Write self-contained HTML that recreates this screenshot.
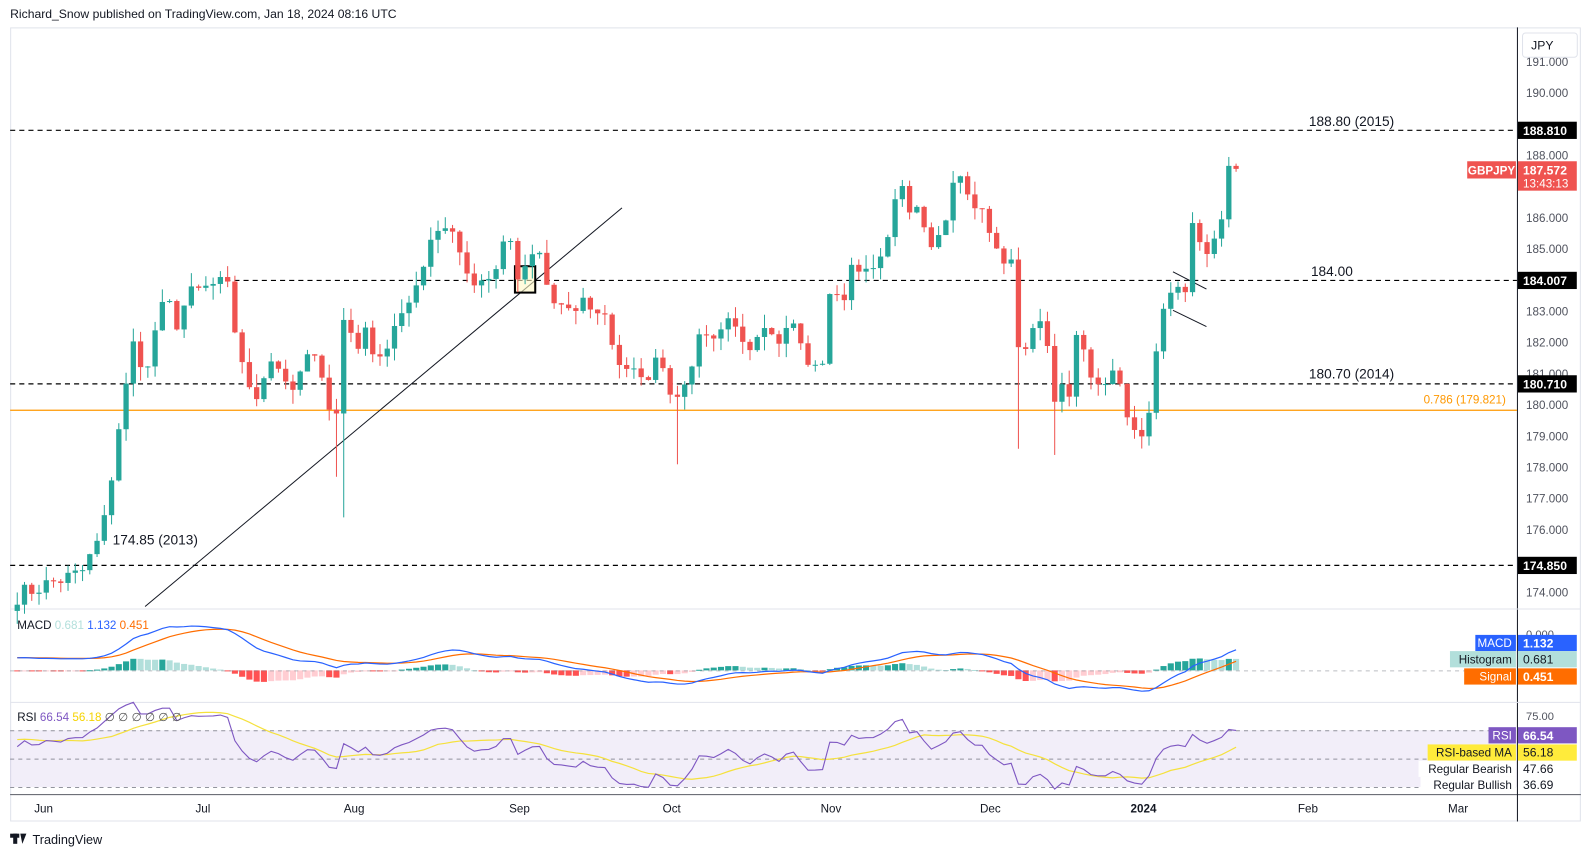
<!DOCTYPE html>
<html><head><meta charset="utf-8"><style>
html,body{margin:0;padding:0;background:#fff;}
svg{display:block;font-family:"Liberation Sans",sans-serif;}
</style></head><body>
<svg id="s" width="1591" height="857" viewBox="0 0 1568 845" preserveAspectRatio="none" xmlns="http://www.w3.org/2000/svg"></svg>
<script>
const W=[[17,173.9],[50,174.3],[80,174.6],[95,175.5],[105,176.5],[115,179],[122,180],[130,182],[137,181.6],[145,181],[155,182.8],[165,183.3],[175,182.6],[185,183.5],[200,183.7],[215,183.9],[225,183.7],[230,182.6],[240,181.3],[250,179.9],[258,180.8],[268,181.5],[280,180.9],[290,180.3],[300,181.6],[310,181.5],[320,180.8],[330,178.8],[337,182.8],[344,182.5],[352,181.8],[360,182.4],[370,181.5],[380,181.7],[390,182.6],[400,183.0],[410,183.9],[418,184.5],[428,185.8],[436,185.4],[442,186.0],[450,185.2],[460,184.2],[470,183.8],[480,184.0],[490,184.3],[500,185.8],[510,184.0],[520,184.6],[530,185.0],[537,184.1],[545,183.2],[555,183.3],[565,182.9],[575,183.5],[585,182.9],[597,182.8],[610,181.2],[622,181.3],[630,181.0],[640,180.9],[650,181.7],[662,180.1],[680,180.9],[690,182.5],[700,181.9],[710,182.3],[720,182.8],[730,182.0],[740,181.8],[750,182.6],[760,182.4],[770,182.0],[780,182.9],[795,181.3],[810,181.2],[820,184.1],[830,183.1],[840,184.5],[850,184.3],[860,184.5],[870,184.7],[880,186.0],[887,187.6],[895,186.0],[905,186.5],[915,184.9],[925,185.4],[935,186.2],[942,187.8],[950,187.1],[958,186.3],[965,186.6],[972,185.7],[980,185.1],[990,184.5],[997,184.8],[1005,181.4],[1015,181.9],[1020,183.0],[1030,182.3],[1040,180.1],[1047,180.6],[1055,180.1],[1062,182.5],[1070,181.4],[1078,180.5],[1085,180.8],[1092,180.7],[1100,181.3],[1108,179.8],[1115,179.4],[1122,179.1],[1130,178.9],[1137,181.1],[1145,183.0],[1152,183.5],[1160,183.8],[1167,183.3],[1175,185.8],[1183,185.2],[1190,184.9],[1197,185.4],[1205,185.9],[1212,187.8],[1218,187.57]];
function interp(x){for(let i=0;i<W.length-1;i++){if(x<=W[i+1][0]){const t=(x-W[i][0])/(W[i+1][0]-W[i][0]);return W[i][1]+t*(W[i+1][1]-W[i][1]);}}return W[W.length-1][1];}
const N=169,dx=7.15,x0=17;
let seed=7;function rnd(){seed=(seed*16807)%2147483647;return seed/2147483647;}
const xs=[],cl=[];
for(let i=0;i<N;i++){const x=x0+i*dx;xs.push(x);const amp=x<240?0.6:0.25;cl.push(interp(x)+(rnd()-0.5)*amp);}
cl[N-1]=187.57;
const Y=p=>61+(191-p)*30.76;
const lows={333:177.7,341:176.4,670:178.1,1005:178.6,1040:178.4,1130:178.7};
let svg='';
svg+='<rect x="0" y="0" width="1568" height="845" fill="#fff"/>';
svg+='<text x="10" y="18" font-size="12" fill="#131722">Richard_Snow published on TradingView.com, Jan 18, 2024 08:16 UTC</text>';
svg+='<rect x="10.5" y="27.5" width="1547" height="782" fill="#fff" stroke="#e0e3eb"/>';
svg+='<line x1="1495.5" y1="27" x2="1495.5" y2="810" stroke="#131722" stroke-width="1"/>';
svg+='<line x1="10" y1="600.5" x2="1558" y2="600.5" stroke="#e0e3eb"/>';
svg+='<line x1="10" y1="692.5" x2="1558" y2="692.5" stroke="#e0e3eb"/>';
svg+='<line x1="10" y1="783.5" x2="1558" y2="783.5" stroke="#131722" stroke-opacity=".7"/>';
[[191,'191.000'],[190,'190.000'],[188,'188.000'],[186,'186.000'],[185,'185.000'],[183,'183.000'],[182,'182.000'],[181,'181.000'],[180,'180.000'],[179,'179.000'],[178,'178.000'],[177,'177.000'],[176,'176.000'],[174,'174.000']].forEach(a=>{svg+=`<text x="1504" y="${Y(a[0])+4}" font-size="11.5" fill="#50535e">${a[1]}</text>`;});
svg+=`<line x1="10" y1="404.5" x2="1495" y2="404.5" stroke="#ff9800" stroke-width="1.3"/>`;
[[10,128.5],[222,276.5],[10,378.5],[10,557.5]].forEach(a=>{svg+=`<line x1="${a[0]}" y1="${a[1]}" x2="1495" y2="${a[1]}" stroke="#000" stroke-dasharray="5,4" stroke-width="1.2"/>`;});
svg+='<text x="1290" y="124" font-size="13.5" fill="#131722">188.80 (2015)</text>';
svg+='<text x="1292" y="272" font-size="13.5" fill="#131722">184.00</text>';
svg+='<text x="1290" y="373" font-size="13.5" fill="#131722">180.70 (2014)</text>';
svg+='<text x="111" y="537" font-size="13.5" fill="#131722">174.85 (2013)</text>';
svg+='<text x="1403" y="398" font-size="11.5" fill="#ff9800">0.786 (179.821)</text>';
svg+='<line x1="143" y1="598" x2="613" y2="205" stroke="#131722" stroke-width="1"/>';
svg+='<rect x="507.5" y="262.5" width="20" height="26" fill="#fff9c4" fill-opacity=".6" stroke="#000" stroke-width="2"/>';
svg+='<line x1="1156" y1="268" x2="1189" y2="285" stroke="#131722"/><line x1="1156" y1="306" x2="1189" y2="322" stroke="#131722"/>';
for(let i=0;i<N;i++){
 const o=i?cl[i-1]:cl[0]-0.2,c=cl[i];const up=c>=o;const col=up?'#26a69a':'#ef5350';
 let h=Math.max(o,c)+rnd()*0.45,l=Math.min(o,c)-rnd()*0.45;
 for(const k in lows){if(Math.abs(xs[i]-k)<3.6)l=Math.min(l,lows[k]);}
 const x=xs[i];
 svg+=`<line x1="${x}" y1="${Y(h)}" x2="${x}" y2="${Y(l)}" stroke="${col}" stroke-width="1"/>`;
 const yt=Y(Math.max(o,c)),yb=Y(Math.min(o,c));
 svg+=`<rect x="${x-2.6}" y="${yt}" width="5.2" height="${Math.max(1,yb-yt)}" fill="${col}"/>`;
}
const warm=[];for(let i=0;i<60;i++)warm.push(167.5+i*0.11+Math.sin(i*1.3)*0.5);
const all=warm.concat(cl);
function ema(a,n){const k=2/(n+1);let r=[a[0]];for(let i=1;i<a.length;i++)r.push(a[i]*k+r[i-1]*(1-k));return r;}
const e12=ema(all,12),e26=ema(all,26);const macd=all.map((v,i)=>e12[i]-e26[i]);const sig=ema(macd,9);
const off=warm.length;const MY=v=>661-v*17;
let pm='',ps='';
for(let i=0;i<N;i++){const m=macd[i+off],s=sig[i+off],h=m-s,hp=macd[i+off-1]-sig[i+off-1];
 let col=h>=0?(h>=hp?'#26a69a':'#b2dfdb'):(h<hp?'#ff5252':'#ffcdd2');
 const y1=MY(Math.max(h,0)),y2=MY(Math.min(h,0));
 svg+=`<rect x="${xs[i]-3}" y="${y1}" width="6" height="${Math.max(1,y2-y1)}" fill="${col}"/>`;
 pm+=(i?'L':'M')+xs[i]+','+MY(m).toFixed(1);ps+=(i?'L':'M')+xs[i]+','+MY(s).toFixed(1);}
svg+='<line x1="10" y1="661.5" x2="1495" y2="661.5" stroke="#787b86" stroke-dasharray="4,4" stroke-opacity=".5"/>';
svg+=`<path d="${ps}" fill="none" stroke="#ff6d00" stroke-width="1.2"/><path d="${pm}" fill="none" stroke="#2962ff" stroke-width="1.2"/>`;
svg+='<rect x="10" y="720" width="1485" height="56" fill="#7e57c2" fill-opacity=".1"/>';
[720.5,748.5,776.5].forEach(y=>{svg+=`<line x1="10" y1="${y}" x2="1495" y2="${y}" stroke="#787b86" stroke-dasharray="4,4" stroke-opacity=".8"/>`;});
let g=0,lo=0;const rsi=[];
for(let i=1;i<all.length;i++){const d=all[i]-all[i-1];const G=Math.max(d,0),L=Math.max(-d,0);if(i<=14){g+=G/14;lo+=L/14;}else{g=(g*13+G)/14;lo=(lo*13+L)/14;}rsi[i]=lo==0?100:100-100/(1+g/lo);}
const RY=v=>748-(v-50)*1.4;
let pr='',pa='';
for(let i=0;i<N;i++){const j=i+off;let s=0;for(let k=0;k<14;k++)s+=rsi[j-k];
 pr+=(i?'L':'M')+xs[i]+','+RY(rsi[j]).toFixed(1);pa+=(i?'L':'M')+xs[i]+','+RY(s/14).toFixed(1);}
svg+=`<path d="${pa}" fill="none" stroke="#f5e13d" stroke-width="1.2"/><path d="${pr}" fill="none" stroke="#7e57c2" stroke-width="1.1"/>`;
svg+='<text x="17" y="620" font-size="11.5" fill="#131722">MACD <tspan fill="#b2dfdb">0.681</tspan> <tspan fill="#2962ff">1.132</tspan> <tspan fill="#ff6d00">0.451</tspan></text>';
svg+='<text x="17" y="711" font-size="11.5" fill="#131722">RSI <tspan fill="#7e57c2">66.54</tspan> <tspan fill="#f5d300">56.18</tspan> <tspan fill="#555">∅ ∅ ∅ ∅ ∅ ∅</tspan></text>';
[[43,'Jun'],[200,'Jul'],[349,'Aug'],[512,'Sep'],[662,'Oct'],[819,'Nov'],[976,'Dec'],[1289,'Feb'],[1437,'Mar']].forEach(a=>{svg+=`<text x="${a[0]}" y="801" font-size="11.5" fill="#131722" text-anchor="middle">${a[1]}</text>`;});
svg+='<text x="1127" y="801" font-size="11.5" font-weight="bold" fill="#131722" text-anchor="middle">2024</text>';
function box(y,h,fill,txt,tc){svg+=`<rect x="1496" y="${y}" width="58" height="${h}" fill="${fill}"/><text x="1501" y="${y+h/2+4.5}" font-size="12" font-weight="bold" fill="${tc}">${txt}</text>`;}
box(120,17,'#000','188.810','#fff');box(268,17,'#000','184.007','#fff');box(370,17,'#000','180.710','#fff');box(549,17,'#000','174.850','#fff');
svg+='<rect x="1496" y="159" width="58" height="29" fill="#ef5350"/><text x="1501" y="172" font-size="12" font-weight="bold" fill="#fff">187.572</text><text x="1501" y="185" font-size="11.5" fill="#fff">13:43:13</text>';
svg+='<rect x="1446" y="159" width="48" height="17" fill="#ef5350"/><text x="1470" y="172" font-size="11.5" font-weight="bold" fill="#fff" text-anchor="middle">GBPJPY</text>';
svg+='<rect x="1500.5" y="32.5" width="54" height="24" rx="3" fill="#fff" stroke="#e0e3eb"/><text x="1509" y="49" font-size="12" fill="#131722">JPY</text>';
function tag(x,y,w,fill,txt,tc){svg+=`<rect x="${x}" y="${y}" width="${w}" height="16" fill="${fill}"/><text x="${x+w-4}" y="${y+12}" font-size="11.5" fill="${tc}" text-anchor="end">${txt}</text>`;}
svg+='<text x="1504" y="629" font-size="11" fill="#50535e">0.000</text><text x="1504" y="710" font-size="11" fill="#50535e">75.00</text>';
tag(1454,626,40,'#2962ff','MACD','#fff');box(626,16,'#2962ff','1.132','#fff');
tag(1429,642,65,'#b2dfdb','Histogram','#131722');svg+='<rect x="1496" y="642" width="58" height="16" fill="#b2dfdb"/><text x="1501" y="654" font-size="12" fill="#131722">0.681</text>';
tag(1443,659,51,'#ff6d00','Signal','#fff');box(659,16,'#ff6d00','0.451','#fff');
tag(1467,717,27,'#7e57c2','RSI','#fff');box(717,16,'#7e57c2','66.54','#fff');
tag(1407,734,87,'#ffeb3b','RSI-based MA','#131722');svg+='<rect x="1496" y="734" width="58" height="16" fill="#ffeb3b"/><text x="1501" y="746" font-size="12" fill="#131722">56.18</text>';
tag(1398,750,96,'#fff','Regular Bearish','#131722');svg+='<text x="1501" y="762" font-size="12" fill="#131722">47.66</text>';
tag(1400,766,94,'#fff','Regular Bullish','#131722');svg+='<text x="1501" y="778" font-size="12" fill="#131722">36.69</text>';
svg+='<rect x="10" y="822" width="9" height="4" fill="#131722"/><rect x="13" y="822" width="4" height="10" fill="#131722"/><path d="M20 822 L26 822 L22 832 Z" fill="#131722"/><text x="32" y="832" font-size="12.5" fill="#131722">TradingView</text>';
document.getElementById('s').innerHTML=svg;
</script>
</body></html>
